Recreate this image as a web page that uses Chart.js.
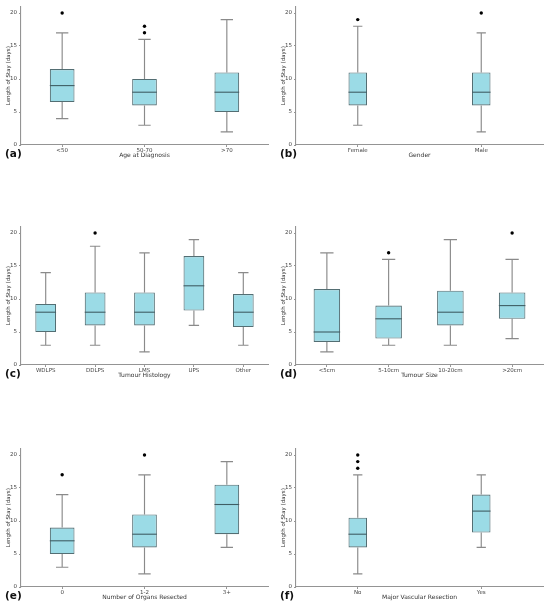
<!DOCTYPE html>
<html>
<head>
<meta charset="utf-8">
<script src="https://cdn.jsdelivr.net/npm/chart.js@4.4.1/dist/chart.umd.min.js"></script>
<style>
  html, body { margin: 0; padding: 0; background: #ffffff; }
  body { width: 550px; height: 605px; position: relative; overflow: hidden; }
  .panel { position: absolute; width: 275px; height: 160px; }
  .panel canvas { position: absolute; left: 0; top: 0; }
  .tag { position: absolute; left: 5px; top: 146px; font: bold 10.5px "DejaVu Sans", sans-serif; color: #111; line-height: 15px; }
</style>
</head>
<body>
<div class="panel" id="pa" style="left:0px;top:0px;"><canvas id="ca" width="275" height="160"></canvas><div class="tag">(a)</div></div>
<div class="panel" id="pb" style="left:275px;top:0px;"><canvas id="cb" width="275" height="160"></canvas><div class="tag">(b)</div></div>
<div class="panel" id="pc" style="left:0px;top:220.3px;"><canvas id="cc" width="275" height="160"></canvas><div class="tag">(c)</div></div>
<div class="panel" id="pd" style="left:275px;top:220.3px;"><canvas id="cd" width="275" height="160"></canvas><div class="tag">(d)</div></div>
<div class="panel" id="pe" style="left:0px;top:441.7px;"><canvas id="ce" width="275" height="160"></canvas><div class="tag">(e)</div></div>
<div class="panel" id="pf" style="left:275px;top:441.7px;"><canvas id="cf" width="275" height="160"></canvas><div class="tag">(f)</div></div>
<script>
// ---- Data (Length of Stay, days) ----
const yTickValues = [0, 5, 10, 15, 20];
const yTitle = 'Length of Stay (days)';

// (a) Age at Diagnosis
const ageCats = ['<50', '50-70', '>70'];
const ageLow  = [4, 3, 2];
const ageQ1   = [6.5, 6, 5];
const ageMed  = [9, 8, 8];
const ageQ3   = [11.5, 10, 11];
const ageHigh = [17, 16, 19];
const ageOut  = [[20], [17, 18], []];

// (b) Gender
const genderCats = ['Female', 'Male'];
const genderLow  = [3, 2];
const genderQ1   = [6, 6];
const genderMed  = [8, 8];
const genderQ3   = [11, 11];
const genderHigh = [18, 17];
const genderOut  = [[19], [20]];

// (c) Tumour Histology
const histCats = ['WDLPS', 'DDLPS', 'LMS', 'UPS', 'Other'];
const histLow  = [3, 3, 2, 6, 3];
const histQ1   = [5, 6, 6, 8.25, 5.75];
const histMed  = [8, 8, 8, 12, 8];
const histQ3   = [9.25, 11, 11, 16.5, 10.75];
const histHigh = [14, 18, 17, 19, 14];
const histOut  = [[], [20], [], [], []];

// (d) Tumour Size
const sizeCats = ['<5cm', '5-10cm', '10-20cm', '>20cm'];
const sizeLow  = [2, 3, 3, 4];
const sizeQ1   = [3.5, 4, 6, 7];
const sizeMed  = [5, 7, 8, 9];
const sizeQ3   = [11.5, 9, 11.25, 11];
const sizeHigh = [17, 16, 19, 16];
const sizeOut  = [[], [17], [], [20]];

// (e) Number of Organs Resected
const organCats = ['0', '1-2', '3+'];
const organLow  = [3, 2, 6];
const organQ1   = [5, 6, 8];
const organMed  = [7, 8, 12.5];
const organQ3   = [9, 11, 15.5];
const organHigh = [14, 17, 19];
const organOut  = [[17], [20], []];

// (f) Major Vascular Resection
const vascCats = ['No', 'Yes'];
const vascLow  = [2, 6];
const vascQ1   = [6, 8.25];
const vascMed  = [8, 11.5];
const vascQ3   = [10.5, 14];
const vascHigh = [17, 17];
const vascOut  = [[18, 19, 20], []];

// ---- Styles ----
const FONT = '"DejaVu Sans", sans-serif';
const FILL = '#9bdbe6';
const EDGE = '#536e73';
const MEDIAN = '#3f5e64';
const WHISKER = '#8a8a8a';
const AXIS = '#949494';

const boxPlugin = {
  id: 'boxWhiskers',
  beforeDatasetsDraw(chart) {
    const ds = chart.data.datasets[0];
    const meta = chart.getDatasetMeta(0);
    const y = chart.scales.y;
    const ctx = chart.ctx;
    ctx.save();
    ctx.strokeStyle = WHISKER;
    ctx.lineWidth = 1.15;
    meta.data.forEach((bar, i) => {
      const x = bar.x;
      const cap = bar.width / 4;
      const yl = y.getPixelForValue(ds.low[i]);
      const yh = y.getPixelForValue(ds.high[i]);
      const y1 = y.getPixelForValue(ds.q1[i]);
      const y3 = y.getPixelForValue(ds.q3[i]);
      ctx.beginPath();
      ctx.moveTo(x, y1); ctx.lineTo(x, yl);
      ctx.moveTo(x, y3); ctx.lineTo(x, yh);
      ctx.moveTo(x - cap, yl); ctx.lineTo(x + cap, yl);
      ctx.moveTo(x - cap, yh); ctx.lineTo(x + cap, yh);
      ctx.stroke();
    });
    ctx.restore();
  },
  afterDatasetsDraw(chart) {
    const ds = chart.data.datasets[0];
    const meta = chart.getDatasetMeta(0);
    const y = chart.scales.y;
    const ctx = chart.ctx;
    ctx.save();
    ctx.strokeStyle = MEDIAN;
    ctx.lineWidth = 1.1;
    meta.data.forEach((bar, i) => {
      const ym = y.getPixelForValue(ds.med[i]);
      ctx.beginPath();
      ctx.moveTo(bar.x - bar.width / 2, ym);
      ctx.lineTo(bar.x + bar.width / 2, ym);
      ctx.stroke();
    });
    ctx.restore();
  }
};

function makePanel(canvasId, title, cats, low, q1, med, q3, high, outs, widthFrac) {
  const outlierPts = [];
  cats.forEach((c, i) => outs[i].forEach(v => outlierPts.push({ x: c, y: v })));
  return new Chart(document.getElementById(canvasId), {
    type: 'bar',
    data: {
      labels: cats,
      datasets: [
        {
          type: 'bar',
          data: cats.map((c, i) => [q1[i], q3[i]]),
          low: low, q1: q1, med: med, q3: q3, high: high,
          backgroundColor: FILL,
          borderColor: EDGE,
          borderWidth: 1.1,
          borderSkipped: false,
          barPercentage: widthFrac,
          categoryPercentage: 1,
          order: 2
        },
        {
          type: 'line',
          data: outlierPts,
          showLine: false,
          pointRadius: 1.7,
          pointBackgroundColor: '#000',
          pointBorderColor: '#000',
          pointBorderWidth: 0,
          order: 1
        }
      ]
    },
    options: {
      responsive: false,
      animation: false,
      layout: { padding: { left: 5, right: 7, top: 6.4, bottom: 1 } },
      plugins: { legend: { display: false }, tooltip: { enabled: false } },
      scales: {
        x: {
          type: 'category',
          offset: true,
          grid: { display: true, offset: false, drawOnChartArea: false, drawTicks: true, tickLength: 2, color: AXIS },
          border: { display: true, color: AXIS, width: 1.1 },
          ticks: { font: { family: FONT, size: 5.5 }, color: '#444', padding: 0, maxRotation: 0, autoSkip: false },
          title: { display: true, text: title, font: { family: FONT, size: 6 }, color: '#333', padding: 0 },
          afterFit: s => { s.height = 14; }
        },
        y: {
          min: 0, max: 21,
          afterBuildTicks: s => { s.ticks = yTickValues.map(v => ({ value: v })); },
          grid: { display: true, drawOnChartArea: false, drawTicks: true, tickLength: 2, color: AXIS },
          border: { display: true, color: AXIS, width: 1.1 },
          ticks: { font: { family: FONT, size: 5.5 }, color: '#444', padding: 2 },
          title: { display: true, text: yTitle, font: { family: FONT, size: 5.5 }, color: '#333', padding: 0 },
          afterFit: s => { s.width = 16; }
        }
      }
    },
    plugins: [boxPlugin]
  });
}

makePanel('ca', 'Age at Diagnosis', ageCats, ageLow, ageQ1, ageMed, ageQ3, ageHigh, ageOut, 0.3);
makePanel('cb', 'Gender', genderCats, genderLow, genderQ1, genderMed, genderQ3, genderHigh, genderOut, 0.15);
makePanel('cc', 'Tumour Histology', histCats, histLow, histQ1, histMed, histQ3, histHigh, histOut, 0.42);
makePanel('cd', 'Tumour Size', sizeCats, sizeLow, sizeQ1, sizeMed, sizeQ3, sizeHigh, sizeOut, 0.43);
makePanel('ce', 'Number of Organs Resected', organCats, organLow, organQ1, organMed, organQ3, organHigh, organOut, 0.3);
makePanel('cf', 'Major Vascular Resection', vascCats, vascLow, vascQ1, vascMed, vascQ3, vascHigh, vascOut, 0.15);
</script>
</body>
</html>
